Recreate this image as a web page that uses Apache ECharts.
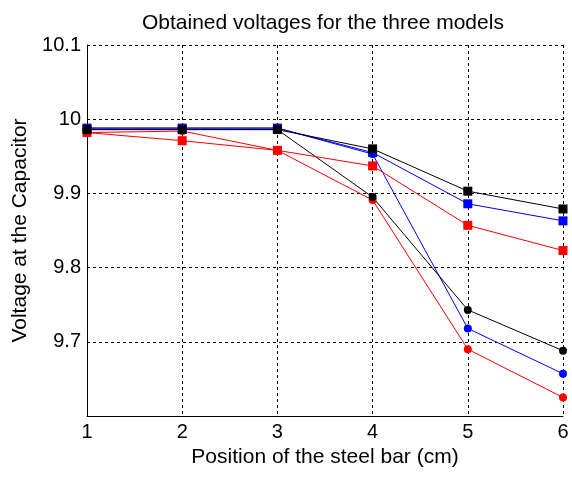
<!DOCTYPE html>
<html>
<head>
<meta charset="utf-8">
<script src="https://cdn.jsdelivr.net/npm/echarts@6/dist/echarts.min.js"></script>
<style>
html,body{margin:0;padding:0;background:#fff;}
#chart{width:572px;height:481px;}
</style>
</head>
<body>
<div id="chart"></div>
<script>
var positions = [1, 2, 3, 4, 5, 6];
var blackSquare = [9.986, 9.986, 9.986, 9.960, 9.903, 9.879];
var blueSquare  = [9.988, 9.988, 9.988, 9.955, 9.886, 9.863];
var redSquare   = [9.982, 9.971, 9.958, 9.937, 9.857, 9.823];
var blackCircle = [9.986, 9.986, 9.986, 9.895, 9.743, 9.688];
var blueCircle  = [9.988, 9.988, 9.988, 9.953, 9.718, 9.657];
var redCircle   = [9.982, 9.984, 9.958, 9.891, 9.690, 9.625];

function pairs(vals) {
  return positions.map(function (x, i) { return [x, vals[i]]; });
}
function mk(name, vals, color, symbol, size) {
  return {
    name: name, type: 'line', data: pairs(vals),
    symbol: symbol, symbolSize: size,
    lineStyle: { color: color, width: 1 },
    itemStyle: { color: color },
    emphasis: { disabled: true },
    animation: false
  };
}
var font = 'Liberation Sans, Arial, sans-serif';
var gridLine = { show: true, lineStyle: { color: '#000', type: [3, 3], width: 1 } };
var chart = echarts.init(document.getElementById('chart'));
chart.setOption({
  animation: false,
  backgroundColor: '#fff',
  title: {
    text: 'Obtained voltages for the three models',
    left: 137, top: 8,
    textStyle: { fontFamily: font, fontSize: 21, fontWeight: 'normal', color: '#000' }
  },
  grid: { left: 87, right: 9, top: 45, bottom: 65 },
  xAxis: {
    type: 'value', min: 1, max: 6, interval: 1,
    name: 'Position of the steel bar (cm)', nameLocation: 'middle', nameGap: 29,
    nameTextStyle: { fontFamily: font, fontSize: 21, color: '#000' },
    axisLine: { show: true, onZero: false, lineStyle: { color: '#000', width: 1 } },
    axisTick: { show: false },
    axisLabel: { fontFamily: font, fontSize: 20, color: '#000', margin: 6 },
    splitLine: gridLine
  },
  yAxis: {
    type: 'value', min: 9.6, max: 10.1, interval: 0.1,
    name: 'Voltage at the Capacitor', nameLocation: 'middle', nameGap: 54,
    nameTextStyle: { fontFamily: font, fontSize: 21, color: '#000' },
    axisLine: { show: true, onZero: false, lineStyle: { color: '#000', width: 1 } },
    axisTick: { show: false },
    axisLabel: {
      fontFamily: font, fontSize: 20, color: '#000', margin: 6,
      showMinLabel: false,
      formatter: function (v) { return String(+v.toFixed(1)); }
    },
    splitLine: gridLine
  },
  series: [
    mk('Red circles', redCircle, '#ff0000', 'circle', 8),
    mk('Blue circles', blueCircle, '#0000ff', 'circle', 8),
    mk('Black circles', blackCircle, '#000000', 'circle', 8),
    mk('Red squares', redSquare, '#ff0000', 'rect', 9),
    mk('Blue squares', blueSquare, '#0000ff', 'rect', 9),
    mk('Black squares', blackSquare, '#000000', 'rect', 9)
  ]
});
</script>
</body>
</html>
